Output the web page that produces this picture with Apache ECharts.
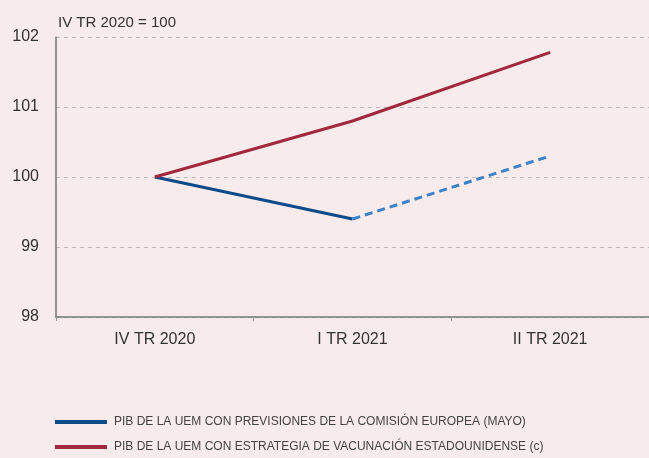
<!DOCTYPE html>
<html><head><meta charset="utf-8">
<script src="https://cdn.jsdelivr.net/npm/echarts@6/dist/echarts.min.js"></script>
<style>html,body{margin:0;padding:0;background:#F7EBEB}#c{width:649px;height:458px}</style>
</head><body><div id="c"></div>
<script>
const categories = ['IV TR 2020', 'I TR 2021', 'II TR 2021'];
const euSolid = [100, 99.4, null];
const euDashed = [null, 99.4, 100.3];
const usVacc = [100, 100.8, 101.78];
const yTicks = [98, 99, 100, 101, 102];
const nameEU = 'PIB DE LA UEM CON PREVISIONES DE LA COMISIÓN EUROPEA (MAYO)';
const nameUS = 'PIB DE LA UEM CON ESTRATEGIA DE VACUNACIÓN ESTADOUNIDENSE (c)';
const font = '"Liberation Sans", Arial, sans-serif';
const chart = echarts.init(document.getElementById('c'));
chart.setOption({
  backgroundColor: '#F7EBEB',
  animation: false,
  textStyle: {fontFamily: font},
  title: {text: 'IV TR 2020 = 100', left: 53, top: 10, textStyle: {fontSize: 15, fontWeight: 'normal', color: '#333', fontFamily: font}},
  grid: {left: 56, right: 0, top: 37, bottom: 141},
  legend: {
    orient: 'vertical', left: 55, top: 415, padding: 0, itemGap: 11, itemWidth: 52, itemHeight: 4,
    icon: 'rect', data: [nameEU, nameUS],
    textStyle: {fontSize: 12, lineHeight: 14, color: '#444', fontFamily: font, padding: [0, 0, 0, 2]}
  },
  xAxis: {
    type: 'category', data: categories, boundaryGap: true,
    axisLine: {lineStyle: {color: '#777', width: 1.5}},
    axisTick: {show: true, length: 4, lineStyle: {color: '#999'}},
    axisLabel: {fontSize: 16, color: '#333', margin: 15, fontFamily: font}
  },
  yAxis: {
    type: 'value', min: yTicks[0], max: yTicks[yTicks.length - 1], interval: 1,
    axisLine: {show: true, lineStyle: {color: '#777', width: 1.5}},
    axisTick: {show: false},
    axisLabel: {fontSize: 16, color: '#333', margin: 17, fontFamily: font},
    splitLine: {lineStyle: {color: '#BBBBBB', type: [4, 4]}}
  },
  series: [
    {name: nameEU, type: 'line', data: euSolid, symbol: 'none', color: '#0D4A8A', lineStyle: {width: 3, color: '#0D4A8A'}, z: 3},
    {name: 'dashed', type: 'line', data: euDashed, symbol: 'none', color: '#3C82C8', lineStyle: {width: 3, color: '#3C82C8', type: [8, 5]}, z: 3},
    {name: nameUS, type: 'line', data: usVacc, symbol: 'none', color: '#A2283F', lineStyle: {width: 3, color: '#A2283F'}, z: 4}
  ]
});
</script></body></html>
